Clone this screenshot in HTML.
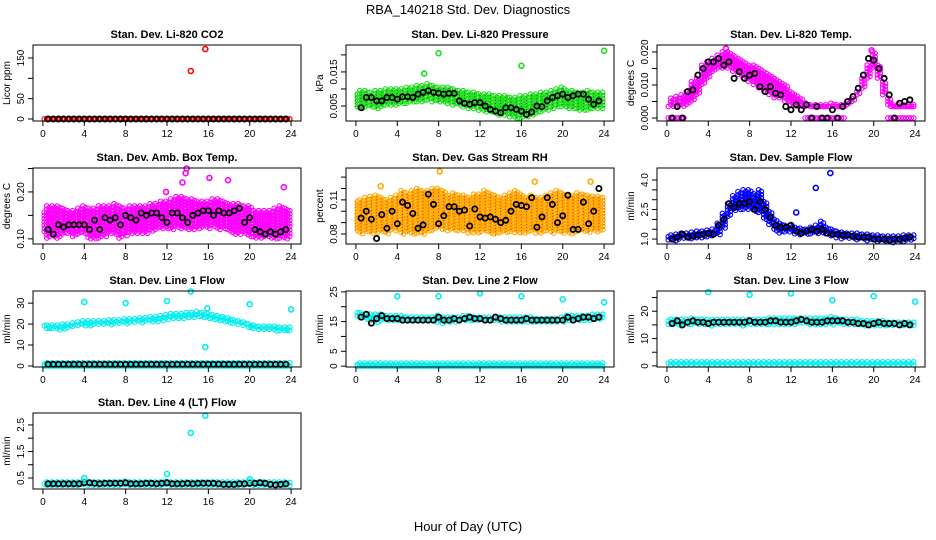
<!DOCTYPE html>
<html><head><meta charset="utf-8"><style>
body{margin:0;background:#fff;}
svg{display:block;font-family:"Liberation Sans",sans-serif;}
</style></head><body>
<svg id="chart" width="936" height="540" viewBox="0 0 936 540">
<text x="468" y="14" text-anchor="middle" font-size="13">RBA_140218  Std. Dev. Diagnostics</text>
<text x="468" y="531" text-anchor="middle" font-size="13">Hour of Day (UTC)</text>
</svg>
<script>
const xTicks = [0,4,8,12,16,20,24];

const co2Lo = [0,0,0,0,0,0,0,0,0,0,0,0,0,0,0,0,0,0,0,0,0,0,0,0,0,0,0,0,0,0,0,0,0,0,0,0,0,0,0,0,0,0,0,0,0,0,0,0,0];
const co2Hi = [0,0,0,0,0,0,0,0,0,0,0,0,0,0,0,0,0,0,0,0,0,0,0,0,0,0,0,0,0,0,0,0,0,0,0,0,0,0,0,0,0,0,0,0,0,0,0,0,0];
const co2Mean = [null,0,0,0,0,0,0,0,0,0,0,0,0,0,0,0,0,0,0,0,0,0,0,0,0,0,0,0,0,0,0,0,0,0,0,0,0,0,0,0,0,0,0,0,0,0,0,0,null];
const co2OutX = [14.3,15.7];
const co2OutY = [118,172];

const presLo = [0.004,0.004,0.0045,0.0045,0.004,0.0045,0.005,0.005,0.005,0.0055,0.0055,0.006,0.006,0.006,0.0065,0.006,0.006,0.006,0.0055,0.005,0.005,0.0045,0.004,0.004,0.0035,0.003,0.003,0.0025,0.002,0.002,0.0015,0.001,0.001,0.0015,0.002,0.0025,0.003,0.0035,0.004,0.0045,0.0045,0.004,0.004,0.0035,0.0035,0.0035,0.004,0.004,0.004];
const presHi = [0.009,0.0095,0.0095,0.009,0.0095,0.0095,0.01,0.01,0.01,0.01,0.0105,0.0105,0.011,0.011,0.0115,0.011,0.0105,0.0105,0.0105,0.01,0.0095,0.0095,0.009,0.009,0.0085,0.0085,0.0085,0.008,0.008,0.008,0.0075,0.0075,0.008,0.008,0.0085,0.0085,0.009,0.009,0.0095,0.01,0.0105,0.0095,0.0095,0.009,0.009,0.0095,0.009,0.009,0.009];
const presMean = [null,0.0045,0.0075,0.0075,0.0065,0.0065,0.0075,0.0075,0.007,0.0077,0.0077,0.0075,0.0085,0.009,0.0095,0.009,0.0088,0.0085,0.0087,0.0087,0.0065,0.0058,0.0055,0.006,0.006,0.005,0.004,0.0035,0.003,0.0045,0.0045,0.004,0.0035,0.0025,0.0032,0.005,0.0048,0.0065,0.0075,0.008,0.0085,0.0075,0.008,0.0085,0.0085,0.007,0.0055,0.0065,null];
const presOutX = [8,16,24,6.6];
const presOutY = [0.0205,0.0168,0.0212,0.0145];

const tempLo = [0.0035,0.0035,0.0035,0.0035,0.004,0.005,0.007,0.010,0.012,0.014,0.015,0.015,0.015,0.014,0.013,0.012,0.011,0.010,0.009,0.008,0.007,0.006,0.006,0.005,0.004,0.0035,0.0035,0.0035,0.0035,0.0035,0.0035,0.0035,0.0035,0.0035,0.0035,0.004,0.005,0.007,0.009,0.012,0.015,0.012,0.007,0.0035,0.0035,0.0035,0.0035,0.0035,0.0035];
const tempHi = [0.0035,0.006,0.0065,0.007,0.008,0.011,0.012,0.016,0.017,0.018,0.019,0.020,0.020,0.019,0.018,0.017,0.016,0.016,0.015,0.014,0.013,0.012,0.011,0.010,0.008,0.007,0.006,0.0045,0.004,0.004,0.004,0.004,0.0045,0.004,0.004,0.005,0.006,0.008,0.012,0.016,0.020,0.016,0.011,0.006,0.004,0.004,0.004,0.004,0.004];
const tempZero = [0,0,0,0,null,null,null,null,null,null,null,null,null,null,null,null,null,null,null,null,null,null,null,null,null,null,null,0,0,0,0,0,0,0,0,null,null,null,null,null,null,null,null,0,0,0,0,0,0];
const tempMean = [null,0,0.0035,0,0.008,0.0085,0.013,0.015,0.017,0.017,0.018,0.016,0.017,0.012,0.014,0.012,0.013,0.0135,0.0095,0.008,0.0095,0.0075,0.007,0.0035,0.0025,0.004,0.0025,0.004,0,0.0035,0,0,0.0025,0,0.0035,0.005,0.0065,0.009,0.013,0.018,0.0175,0.015,0.012,0.007,0,0.0045,0.005,0.0055,null];
const tempOutX = [5.7,19.8];
const tempOutY = [0.021,0.0205];

const ambLo = [0.11,0.10,0.105,0.10,0.11,0.11,0.105,0.11,0.11,0.10,0.10,0.10,0.105,0.11,0.11,0.10,0.105,0.11,0.11,0.11,0.11,0.115,0.12,0.12,0.12,0.12,0.125,0.12,0.12,0.12,0.12,0.125,0.12,0.125,0.12,0.12,0.115,0.11,0.11,0.11,0.105,0.10,0.10,0.105,0.10,0.10,0.10,0.10,0.105];
const ambHi = [0.16,0.17,0.17,0.17,0.165,0.16,0.16,0.165,0.17,0.165,0.165,0.17,0.17,0.17,0.175,0.17,0.165,0.17,0.17,0.17,0.17,0.175,0.175,0.18,0.18,0.185,0.19,0.19,0.185,0.185,0.18,0.18,0.18,0.185,0.185,0.18,0.175,0.175,0.175,0.17,0.17,0.16,0.16,0.16,0.16,0.165,0.17,0.165,0.16];
const ambMean = [null,0.12,0.11,0.13,0.125,0.13,0.13,0.13,0.13,0.12,0.14,0.12,0.145,0.14,0.145,0.13,0.15,0.145,0.14,0.155,0.15,0.155,0.155,0.145,0.135,0.155,0.155,0.145,0.135,0.15,0.155,0.16,0.16,0.15,0.16,0.155,0.155,0.16,0.165,0.135,0.145,0.12,0.115,0.11,0.115,0.11,0.115,0.12,null];
const ambOutX = [13.9,13.8,16.1,17.9,23.3,11.9,13.5];
const ambOutY = [0.25,0.24,0.23,0.225,0.21,0.2,0.22];

const rhLo = [0.083,0.08,0.082,0.08,0.081,0.082,0.08,0.083,0.082,0.08,0.081,0.08,0.08,0.079,0.082,0.083,0.085,0.083,0.082,0.083,0.082,0.082,0.081,0.081,0.08,0.082,0.08,0.079,0.08,0.081,0.082,0.081,0.08,0.08,0.082,0.08,0.081,0.082,0.08,0.082,0.08,0.081,0.08,0.082,0.082,0.081,0.083,0.082,0.083];
const rhHi = [0.11,0.11,0.112,0.113,0.114,0.112,0.11,0.112,0.114,0.118,0.116,0.118,0.12,0.118,0.118,0.12,0.12,0.118,0.114,0.116,0.114,0.114,0.112,0.115,0.115,0.118,0.116,0.114,0.112,0.114,0.116,0.118,0.115,0.112,0.114,0.112,0.112,0.114,0.116,0.118,0.116,0.114,0.114,0.116,0.115,0.114,0.113,0.113,0.112];
const rhMean = [null,0.094,0.1,0.093,0.076,0.097,0.085,0.1,0.089,0.108,0.105,0.098,0.085,0.088,0.115,0.106,0.089,0.096,0.104,0.104,0.1,0.101,0.087,0.102,0.095,0.094,0.095,0.093,0.09,0.092,0.1,0.106,0.105,0.104,0.112,0.086,0.095,0.112,0.106,0.09,0.096,0.114,0.084,0.084,0.108,0.089,0.1,0.12,null];
const rhOutX = [8.1,2.4,17.3,22.7];
const rhOutY = [0.135,0.122,0.126,0.126];

const sfLo = [0.9,0.9,0.9,1.0,1.0,1.0,1.0,1.05,1.1,1.1,1.2,1.5,2.1,2.4,2.5,2.5,2.5,2.4,2.3,2.0,1.7,1.4,1.3,1.3,1.3,1.25,1.2,1.2,1.2,1.25,1.3,1.2,1.1,1.0,1.0,1.0,1.0,0.95,0.95,0.9,0.9,0.85,0.85,0.85,0.8,0.85,0.85,0.9,0.9];
const sfHi = [1.2,1.2,1.25,1.3,1.3,1.35,1.4,1.4,1.45,1.5,1.8,2.3,2.8,3.2,3.4,3.5,3.5,3.3,3.5,2.9,2.4,2.0,1.8,1.7,1.7,1.6,1.55,1.5,1.6,1.7,1.9,1.6,1.5,1.4,1.35,1.3,1.3,1.3,1.25,1.25,1.2,1.2,1.15,1.15,1.15,1.15,1.2,1.2,1.2];
const sfMean = [null,1.0,1.1,1.25,1.1,1.15,1.2,1.25,1.3,1.25,1.7,2.0,2.8,2.6,2.8,2.8,2.9,2.5,2.9,2.5,2.1,1.7,1.6,1.6,1.7,1.4,1.3,1.4,1.5,1.4,1.5,1.3,1.25,1.25,1.2,1.2,1.15,1.1,1.1,1.1,1.0,1.0,1.0,0.95,1.0,1.0,1.05,1.1,null];
const sfOutX = [14.4,15.8,12.5];
const sfOutY = [3.6,4.35,2.35];

const l1Lo = [18,18,17.5,17,17.5,18,18.5,19,19,19,19.5,19.5,19.5,19.5,20,20,20,20.5,20.5,20.5,21,21,21,21.5,22,22,22.5,22.5,23,23,23,23,22.5,22,21.5,21,20.5,20,19.5,19,18.5,17.5,17,17,17,16.5,16.5,17,17];
const l1Hi = [20,19.5,19.5,19.5,20,20,20.5,21,21.5,21.5,21.5,21.5,21.5,22,22,22,22.5,22.5,22.5,23,23,23.5,23.5,24,24.5,25,25,25,25.5,25.5,26,25.5,25,24.5,24,23.5,23,22,21.5,21,20,19.5,19,19,19,19,18.5,18.5,18.5];
const l1Low = [0,1.5];
const l1Mean = [null,0.8,0.8,0.8,0.8,0.8,0.8,0.8,0.8,0.8,0.8,0.8,0.8,0.8,0.8,0.8,0.8,0.8,0.8,0.8,0.8,0.8,0.8,0.8,0.8,0.8,0.8,0.8,0.8,0.8,0.8,0.8,0.8,0.8,0.8,0.8,0.8,0.8,0.8,0.8,0.8,0.8,0.8,0.8,0.8,0.8,0.8,0.8,null];
const l1OutX = [4,8,12,14.3,15.9,15.7,20,24];
const l1OutY = [30.5,30,31,35.5,27.5,9,29.5,27];

const l2Lo = [16.5,16,15.5,15,14.5,15,15,15,15,15,15,15,15,15,15,15,14.5,14,14.5,14.5,15,15,15,15,15,15,15,15,14.5,14.5,14.5,14.5,14.5,14.5,14.5,14.5,14.5,14.5,14.5,14.5,14.5,15,15,15,15,15,15.5,15.5,15.5];
const l2Hi = [18.5,18,17.5,17.5,17.5,17.5,17,17,17,17,16.5,16.5,16.5,16.5,16.5,16.5,17,16.5,16.5,16.5,16.5,17,17,16.5,16.5,16.5,16.5,16.5,16.5,16.5,16.5,16.5,16.5,16.5,16.5,16,16,16,16,16,16.5,17,17,17,17,17,17.5,17.5,17.5];
const l2Low = [0,1.0];
const l2Mean = [null,16.5,17.5,14.5,16,17,16,16,16,15.5,15.5,15.5,15.5,15.5,15.5,15.5,16.5,15.5,15.5,16,15.5,16,16.5,16,16,15.5,15.5,16.5,16,15.5,15.5,15.5,15.5,16,15.5,15.5,15.5,15.5,15.5,15.5,15.5,16.5,15.5,16,16.5,16.5,16,16.5,null];
const l2OutX = [4,8,12,16,20,24];
const l2OutY = [23.5,23.5,24.5,23.5,22.5,21.5];

const l3Lo = [15,15,15,14.5,15,15,15,15,15,14.5,15,15,15,15,15,14.5,15,15,15,15,15,15,15,15,15,15,15.5,15.5,15,15,15,15,15,15.5,15,15,15,15,14.5,14.5,14.5,14.5,14.5,14.5,14.5,14.5,14.5,14.5,14.5];
const l3Hi = [17,17,17,17,17,17.5,17,17,17,17,17,17,17,17,17,17,17,17,17,17,17.5,17.5,17.5,17.5,17.5,17.5,17.5,17.5,17.5,17.5,17.5,17.5,18,17.5,17,17,17,17,16.5,16.5,16.5,16.5,16.5,16,16,16,16,16,16];
const l3Low = [0,1.5];
const l3Mean = [null,15.5,16.5,15,16,16.5,16,16,15.5,16,16,16,16,16,16,16,16.5,16,16,16,16.5,16.5,16,16,16,16.5,17,16.5,16,16,16,16.5,16.5,16.5,16.5,16,16,15.5,15.5,15,15.5,16,15.5,15.5,15.5,15,15.5,15,null];
const l3OutX = [4,8,12,16,20,24];
const l3OutY = [27,26,26.5,24,25.5,23.5];

const l4Lo = [0.2,0.2,0.2,0.2,0.2,0.2,0.2,0.2,0.2,0.2,0.2,0.2,0.2,0.2,0.2,0.2,0.2,0.2,0.2,0.2,0.2,0.2,0.2,0.2,0.2,0.2,0.2,0.2,0.2,0.2,0.2,0.2,0.2,0.2,0.2,0.2,0.2,0.2,0.2,0.2,0.2,0.2,0.2,0.2,0.2,0.2,0.2,0.2,0.2];
const l4Hi = [0.33,0.35,0.35,0.35,0.35,0.35,0.35,0.35,0.38,0.35,0.35,0.35,0.35,0.35,0.35,0.35,0.38,0.35,0.35,0.35,0.35,0.35,0.35,0.35,0.38,0.35,0.35,0.35,0.35,0.35,0.35,0.35,0.35,0.35,0.35,0.35,0.35,0.35,0.35,0.35,0.38,0.35,0.35,0.35,0.35,0.35,0.35,0.35,0.33];
const l4Mean = [null,0.28,0.28,0.28,0.28,0.28,0.28,0.28,0.32,0.32,0.3,0.28,0.3,0.3,0.3,0.3,0.32,0.28,0.28,0.28,0.3,0.3,0.28,0.3,0.32,0.28,0.28,0.28,0.3,0.28,0.3,0.3,0.3,0.3,0.28,0.26,0.26,0.26,0.28,0.28,0.3,0.3,0.32,0.3,0.26,0.24,0.26,0.28,null];
const l4OutX = [4,12,14.3,15.7,20];
const l4OutY = [0.5,0.65,2.2,2.85,0.45];

const NS = 'http://www.w3.org/2000/svg';
const svg = document.getElementById('chart');
function mk(tag, attrs, parent){
  const e = document.createElementNS(NS, tag);
  for (const k in attrs) e.setAttribute(k, attrs[k]);
  (parent||svg).appendChild(e);
  return e;
}

function panel(cfg){
  const g = mk('g', {});
  
  
  const L=cfg.x, T=cfg.y, W=cfg.w, H=cfg.h;
  const xs = h => L + (h + 0.96) / 25.92 * W;
  const ys = v => T + H - (v - cfg.ymin) / (cfg.ymax - cfg.ymin) * H;
  const clip = 'clip-' + cfg.name;
  const cp = mk('clipPath', {id: clip}, g);
  mk('rect', {x:L, y:T-3, width:W, height:H+6}, cp);
  const pts = mk('g', {'clip-path':'url(#'+clip+')', fill:'none'}, g);
  
  
  function circ(h, v, color, sw, r){
    mk('circle', {cx:xs(h).toFixed(1), cy:ys(v).toFixed(1), r:r||2.3, stroke:color, 'stroke-width':sw||1.1}, pts);
  }
  function band(lo, hi, color){
    for (let i=0;i<lo.length;i++){
      const a = ys(lo[i]), b = ys(hi[i]);
      const h = i*0.5;
      [-0.13,0.13].forEach((dx,k)=>{
        if (h+dx < 0 || h+dx > 24) return;
        for (let py=b+k*1.6; py<=a+0.01; py+=3.2){
          const v = cfg.ymin + (T+H-py)/H*(cfg.ymax-cfg.ymin);
          circ(h+dx, v, color);
        }
        if (a-b < 3.2) circ(h+dx, lo[i], color);
      });
    }
  }
  band(cfg.lo, cfg.hi, cfg.color);
  if (cfg.low){
    const lo=[],hi=[];
    for (let i=0;i<cfg.lo.length;i++){lo.push(cfg.low[0]);hi.push(cfg.low[1]);}
    band(lo, hi, cfg.color);
  }
  if (cfg.zero){
    for (let i=0;i<cfg.zero.length;i++) if (cfg.zero[i]!==null){
      for (const dx of [-0.13,0.13]) if (i*0.5+dx>=0 && i*0.5+dx<=24) circ(i*0.5+dx, cfg.zero[i], cfg.color);
    }
  }
  if (cfg.dot){
    for (let i=0;i<cfg.lo.length;i++){
      const a = ys(cfg.lo[i]), b = ys(cfg.hi[i]);
      for (let py=b+1.3; py<=a; py+=3.2){
        mk('rect',{x:(xs(i*0.5)-0.5).toFixed(1), y:(py-0.5).toFixed(1), width:1, height:1, fill:cfg.dot}, pts);
      }
    }
  }
  for (let i=0;i<cfg.mean.length;i++){
    if (cfg.mean[i]===null || cfg.mean[i]===undefined) continue;
    circ(i*0.5, cfg.mean[i], '#000', 1.8, 2.6);
  }
  for (let i=0;i<cfg.outX.length;i++) circ(cfg.outX[i], cfg.outY[i], cfg.color, 1.6, 2.5);

  const box = mk('rect', {x:L, y:T, width:W, height:H, fill:'none', stroke:'#000', 'stroke-width':1}, g);
  
  
  const xa = mk('g', {}, g);
  
  
  mk('line', {x1:xs(0), x2:xs(24), y1:T+H, y2:T+H, stroke:'#000'}, xa);
  xTicks.forEach(t=>{
    mk('line', {x1:xs(t), x2:xs(t), y1:T+H, y2:T+H+5, stroke:'#000'}, xa);
    const tx = mk('text', {x:xs(t), y:T+H+16, 'text-anchor':'middle', 'font-size':10}, xa);
    tx.textContent = t;
  });
  const ya = mk('g', {}, g);
  
  
  const yt = cfg.yticks;
  mk('line', {x1:L, x2:L, y1:ys(yt[0]), y2:ys(yt[yt.length-1]), stroke:'#000'}, ya);
  yt.forEach((t)=>{
    mk('line', {x1:L-5, x2:L, y1:ys(t), y2:ys(t), stroke:'#000'}, ya);
  });
  cfg.ylabels.forEach(t=>{
    const yy = ys(parseFloat(t));
    const tx = mk('text', {x:L-9, y:yy, 'text-anchor':'middle', 'font-size':10, transform:'rotate(-90 '+(L-9)+' '+yy+')'}, ya);
    tx.textContent = t;
  });
  const cy = T + H/2;
  const yl = mk('text', {x:L-23, y:cy, 'text-anchor':'middle', 'font-size':10, transform:'rotate(-90 '+(L-23)+' '+cy+')'}, g);
  
  
  yl.textContent = cfg.ylab;
  const tt = mk('text', {x:L+W/2, y:T-7, 'text-anchor':'middle', 'font-size':11, 'font-weight':'bold'}, g);
  
  
  tt.textContent = cfg.title;
}

const cols = [33, 346, 657];
const rows = [45, 168, 291, 413];
const PW = 268, PH = 76;

panel({name:'co2', title:'Stan. Dev. Li-820 CO2', ylab:'Licor ppm', x:cols[0], y:rows[0], w:PW, h:PH, ymin:-5, ymax:182,
  yticks:[0,50,100,150], ylabels:['0','50','150'], color:'#ff0000', lo:co2Lo, hi:co2Hi, mean:co2Mean, outX:co2OutX, outY:co2OutY});
panel({name:'pressure', title:'Stan. Dev. Li-820 Pressure', ylab:'kPa', x:cols[1], y:rows[0], w:PW, h:PH, ymin:0.0006, ymax:0.0229,
  yticks:[0.005,0.010,0.015,0.020], ylabels:['0.005','0.015'], color:'#1ee01e', dot:'#006600', lo:presLo, hi:presHi, mean:presMean, outX:presOutX, outY:presOutY});
panel({name:'li820-temp', title:'Stan. Dev. Li-820 Temp.', ylab:'degrees C', x:cols[2], y:rows[0], w:PW, h:PH, ymin:-0.0009, ymax:0.0221,
  yticks:[0,0.005,0.010,0.015,0.020], ylabels:['0.000','0.010','0.020'], color:'#ff00ff', lo:tempLo, hi:tempHi, zero:tempZero, mean:tempMean, outX:tempOutX, outY:tempOutY});
panel({name:'amb-box-temp', title:'Stan. Dev. Amb. Box Temp.', ylab:'degrees C', x:cols[0], y:rows[1], w:PW, h:PH, ymin:0.089, ymax:0.251,
  yticks:[0.10,0.15,0.20,0.25], ylabels:['0.10','0.20'], color:'#ff00ff', lo:ambLo, hi:ambHi, mean:ambMean, outX:ambOutX, outY:ambOutY});
panel({name:'gas-stream-rh', title:'Stan. Dev. Gas Stream RH', ylab:'percent', x:cols[1], y:rows[1], w:PW, h:PH, ymin:0.0712, ymax:0.138,
  yticks:[0.08,0.09,0.10,0.11,0.12,0.13], ylabels:['0.08','0.11'], color:'#ffaa00', dot:'#ff2200', lo:rhLo, hi:rhHi, mean:rhMean, outX:rhOutX, outY:rhOutY});
panel({name:'sample-flow', title:'Stan. Dev. Sample Flow', ylab:'ml/min', x:cols[2], y:rows[1], w:PW, h:PH, ymin:0.75, ymax:4.61,
  yticks:[1.0,1.5,2.0,2.5,3.0,3.5,4.0], ylabels:['1.0','2.5','4.0'], color:'#0000ff', lo:sfLo, hi:sfHi, mean:sfMean, outX:sfOutX, outY:sfOutY});
panel({name:'line1-flow', title:'Stan. Dev. Line 1 Flow', ylab:'ml/min', x:cols[0], y:rows[2], w:PW, h:PH, ymin:-0.5, ymax:35.8,
  yticks:[0,10,20,30], ylabels:['0','10','20','30'], color:'#00eeee', lo:l1Lo, hi:l1Hi, low:l1Low, mean:l1Mean, outX:l1OutX, outY:l1OutY});
panel({name:'line2-flow', title:'Stan. Dev. Line 2 Flow', ylab:'ml/min', x:cols[1], y:rows[2], w:PW, h:PH, ymin:-0.3, ymax:25.3,
  yticks:[0,5,10,15,20,25], ylabels:['0','5','15','25'], color:'#00eeee', lo:l2Lo, hi:l2Hi, low:l2Low, mean:l2Mean, outX:l2OutX, outY:l2OutY});
panel({name:'line3-flow', title:'Stan. Dev. Line 3 Flow', ylab:'ml/min', x:cols[2], y:rows[2], w:PW, h:PH, ymin:-0.4, ymax:27.4,
  yticks:[0,5,10,15,20,25], ylabels:['0','10','20'], color:'#00eeee', lo:l3Lo, hi:l3Hi, low:l3Low, mean:l3Mean, outX:l3OutX, outY:l3OutY});
panel({name:'line4-flow', title:'Stan. Dev. Line 4 (LT) Flow', ylab:'ml/min', x:cols[0], y:rows[3], w:PW, h:PH, ymin:0.085, ymax:2.95,
  yticks:[0.5,1.0,1.5,2.0,2.5], ylabels:['0.5','1.5','2.5'], color:'#00eeee', lo:l4Lo, hi:l4Hi, mean:l4Mean, outX:l4OutX, outY:l4OutY});
</script>
</body></html>
